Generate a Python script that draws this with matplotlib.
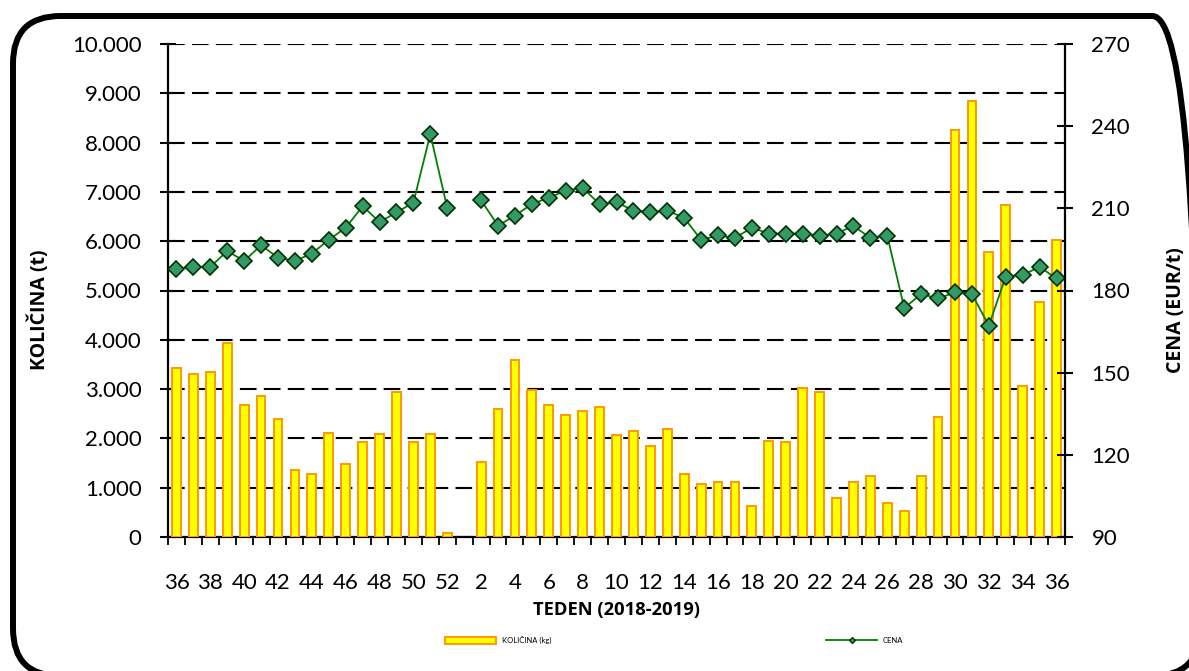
import numpy as np
import matplotlib
matplotlib.use('Agg')
import matplotlib.pyplot as plt
from matplotlib.patches import FancyBboxPatch, Patch
from matplotlib.lines import Line2D
from matplotlib.ticker import FuncFormatter

# weeks 36-52 of 2018, then 1-36 of 2019
weeks = list(range(36, 53)) + list(range(1, 37))

kolicina = [3425, 3310, 3350, 3945, 2675, 2870, 2400, 1365, 1285, 2115, 1480, 1920,
            2080, 2950, 1920, 2080, 80,
            np.nan,
            1520, 2595, 3595, 2985, 2675, 2475, 2555, 2635, 2075, 2155, 1840, 2195,
            1285, 1080, 1115, 1115, 635, 1950, 1920, 3025, 2950, 800, 1115, 1235,
            680, 520, 1235, 2430, 8255, 8850, 5775, 6735, 3065, 4775, 6015]

cena = [188.0, 188.6, 188.6, 194.4, 190.8, 196.5, 192.0, 190.8, 193.5, 198.5, 202.9,
        210.8, 205.0, 208.5, 212.1, 237.1, 210.1,
        np.nan,
        212.9, 203.7, 207.3, 211.6, 213.8, 216.5, 217.4, 211.6, 212.2, 209.2, 208.5,
        209.2, 206.5, 198.5, 200.1, 199.2, 202.9, 200.8, 200.8, 200.8, 200.0, 200.8,
        203.6, 199.2, 200.0, 173.6, 178.7, 177.1, 179.3, 178.7, 167.2, 185.1, 185.7,
        188.6, 184.4]

left_ticks = list(range(0, 10001, 1000))
right_ticks = list(range(90, 271, 30))

plt.rcParams['font.family'] = ['Lato', 'DejaVu Sans']
bold_font = dict(family=['Open Sans', 'DejaVu Sans'], fontweight='bold')

W, H = 1189, 671
fig = plt.figure(figsize=(W / 100, H / 100), dpi=100)

# rounded frame around the whole chart
frame = FancyBboxPatch((13 / W, 1 - 676 / H), (1200 - 13) / W, (676 - 16) / H,
                       boxstyle='round,pad=0,rounding_size=0.04',
                       transform=fig.transFigure, fill=False, ec='black', lw=4.3,
                       mutation_aspect=W / H, clip_on=False)
fig.patches.append(frame)

ax = fig.add_axes([168 / W, (H - 537) / H, 897 / W, 493 / H])
x = np.arange(len(weeks))

ax.bar(x, kolicina, width=0.52, color='#FFFF00', edgecolor='#FF9900', linewidth=1.4,
       zorder=3)
ax.set_xlim(-0.5, len(weeks) - 0.5)
ax.set_ylim(0, 10000)
ax.set_yticks(left_ticks)
ax.yaxis.set_major_formatter(FuncFormatter(lambda v, p: f'{v:,.0f}'.replace(',', '.')))
ax.set_axisbelow(True)
ax.grid(axis='y', color='black', linestyle=(0, (8, 3.5)), linewidth=1.5)

lab_idx = [i for i, w in enumerate(weeks) if w % 2 == 0]
ax.set_xticks(lab_idx)
ax.set_xticklabels([str(weeks[i]) for i in lab_idx])
ax.set_xticks(np.arange(-0.5, len(weeks), 1), minor=True)
ax.tick_params(axis='x', which='major', length=0, pad=26, labelsize=16)
ax.tick_params(axis='x', which='minor', length=6, width=1.3, direction='out')
ax.tick_params(axis='y', direction='inout', length=12, width=1.5, pad=13, labelsize=16)

for s in ['top', 'right']:
    ax.spines[s].set_visible(False)
for s in ['left', 'bottom']:
    ax.spines[s].set_linewidth(1.6)

ax.set_ylabel('KOLIČINA (t)', fontsize=14, **bold_font)
ax.yaxis.set_label_coords(-0.131, 0.46)
ax.set_xlabel('TEDEN (2018-2019)', fontsize=13.2, **bold_font)
ax.xaxis.set_label_coords(0.5, -0.13)

ax2 = ax.twinx()
ax2.plot(x, cena, color='#008000', linewidth=1.3, marker='D', markersize=8,
         markerfacecolor='#339966', markeredgecolor='#003300', markeredgewidth=1.2)
ax2.set_ylim(90, 270)
ax2.set_yticks(right_ticks)
ax2.tick_params(axis='y', direction='inout', length=12, width=1.5, pad=13, labelsize=16)
for s in ['top', 'left', 'bottom']:
    ax2.spines[s].set_visible(False)
ax2.spines['right'].set_linewidth(1.6)
ax2.set_ylabel('CENA (EUR/t)', fontsize=14, **bold_font)
ax2.yaxis.set_label_coords(1.113, 0.46)

handles = [Patch(facecolor='#FFFF00', edgecolor='#FF9900', linewidth=1.4),
           Line2D([], [], color='#008000', linewidth=1.3, marker='D', markersize=3,
                  markerfacecolor='#339966', markeredgecolor='#003300')]
fig.legend(handles, ['KOLIČINA (kg)', 'CENA'], ncol=2, loc='center left',
           bbox_to_anchor=(445 / W, 1 - 640 / H), frameon=False, fontsize=5.5,
           handlelength=6.7, handleheight=1.0, columnspacing=36, handletextpad=0.7,
           borderpad=0, borderaxespad=0)

fig.savefig('out.png', dpi=100)
